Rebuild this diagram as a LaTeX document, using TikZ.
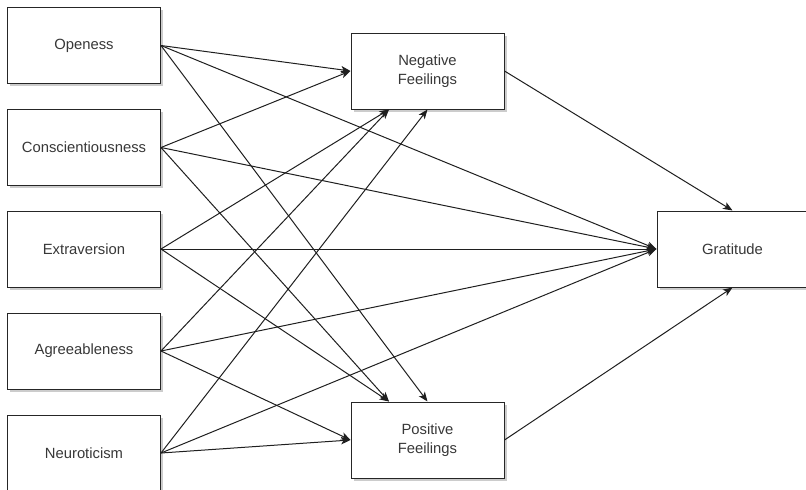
\documentclass[tikz,border=0pt]{standalone}
\usepackage{fontspec}
\setmainfont{Liberation Sans}
\usetikzlibrary{arrows.meta,calc,shadows}
\begin{document}
\begin{tikzpicture}[x=1pt,y=-1pt,
  box/.style={draw=black!85, line width=1pt, fill=white,
    minimum width=153pt, minimum height=76pt, inner sep=0pt,
    font=\fontsize{14.8}{19}\selectfont, text=black!78, align=center,
    drop shadow={shadow xshift=2.5pt, shadow yshift=-2.5pt, opacity=0.2, fill=black}},
  label text/.style={font=\fontsize{14.8}{19}\selectfont, text=black!78, inner sep=0pt},
  link/.style={draw=black!88, line width=1pt,
    -{Stealth[length=9.5pt,width=7.5pt,inset=2.5pt]}}]
\useasboundingbox (0,0) rectangle (806,490);
% left column
\node[box] (ope) at (84,45.5) {Openess};
\node[box] (con) at (84,147.5) {Conscientiousness};
\node[box] (ext) at (84,249) {Extraversion};
\node[box] (agr) at (84,351) {Agreeableness};
\node[box] (neu) at (84,453) {Neuroticism};
% middle
\node[box] (nf) at (427.5,71) {Negative\\Feeilings};
\node[box] (pf) at (427.5,440) {Positive\\Feeilings};
% right (cut off by the picture's right edge)
\node[box, minimum width=200pt, anchor=west] (gra) at (656.5,249) {};
\node[label text] (gratxt) at (732.5,249) {Gratitude};
% connection points
\coordinate (nfq) at ($(nf.south west)!0.25!(nf.south east)$);
\coordinate (pfq) at ($(pf.north west)!0.25!(pf.north east)$);
\coordinate (gran) at (gratxt |- gra.north);
\coordinate (gras) at (gratxt |- gra.south);
% Openess
\draw[link] (ope.east) -- (nf.west);
\draw[link] (ope.east) -- (pf.north);
\draw[link] (ope.east) -- (gra.west);
% Conscientiousness
\draw[link] (con.east) -- (nf.west);
\draw[link] (con.east) -- (pfq);
\draw[link] (con.east) -- (gra.west);
% Extraversion
\draw[link] (ext.east) -- (nfq);
\draw[link] (ext.east) -- (pfq);
\draw[link] (ext.east) -- (gra.west);
% Agreeableness
\draw[link] (agr.east) -- (nfq);
\draw[link] (agr.east) -- (pf.west);
\draw[link] (agr.east) -- (gra.west);
% Neuroticism
\draw[link] (neu.east) -- (nf.south);
\draw[link] (neu.east) -- (pf.west);
\draw[link] (neu.east) -- (gra.west);
% mediators
\draw[link] (nf.east) -- (gran);
\draw[link] (pf.east) -- (gras);
\end{tikzpicture}
\end{document}
